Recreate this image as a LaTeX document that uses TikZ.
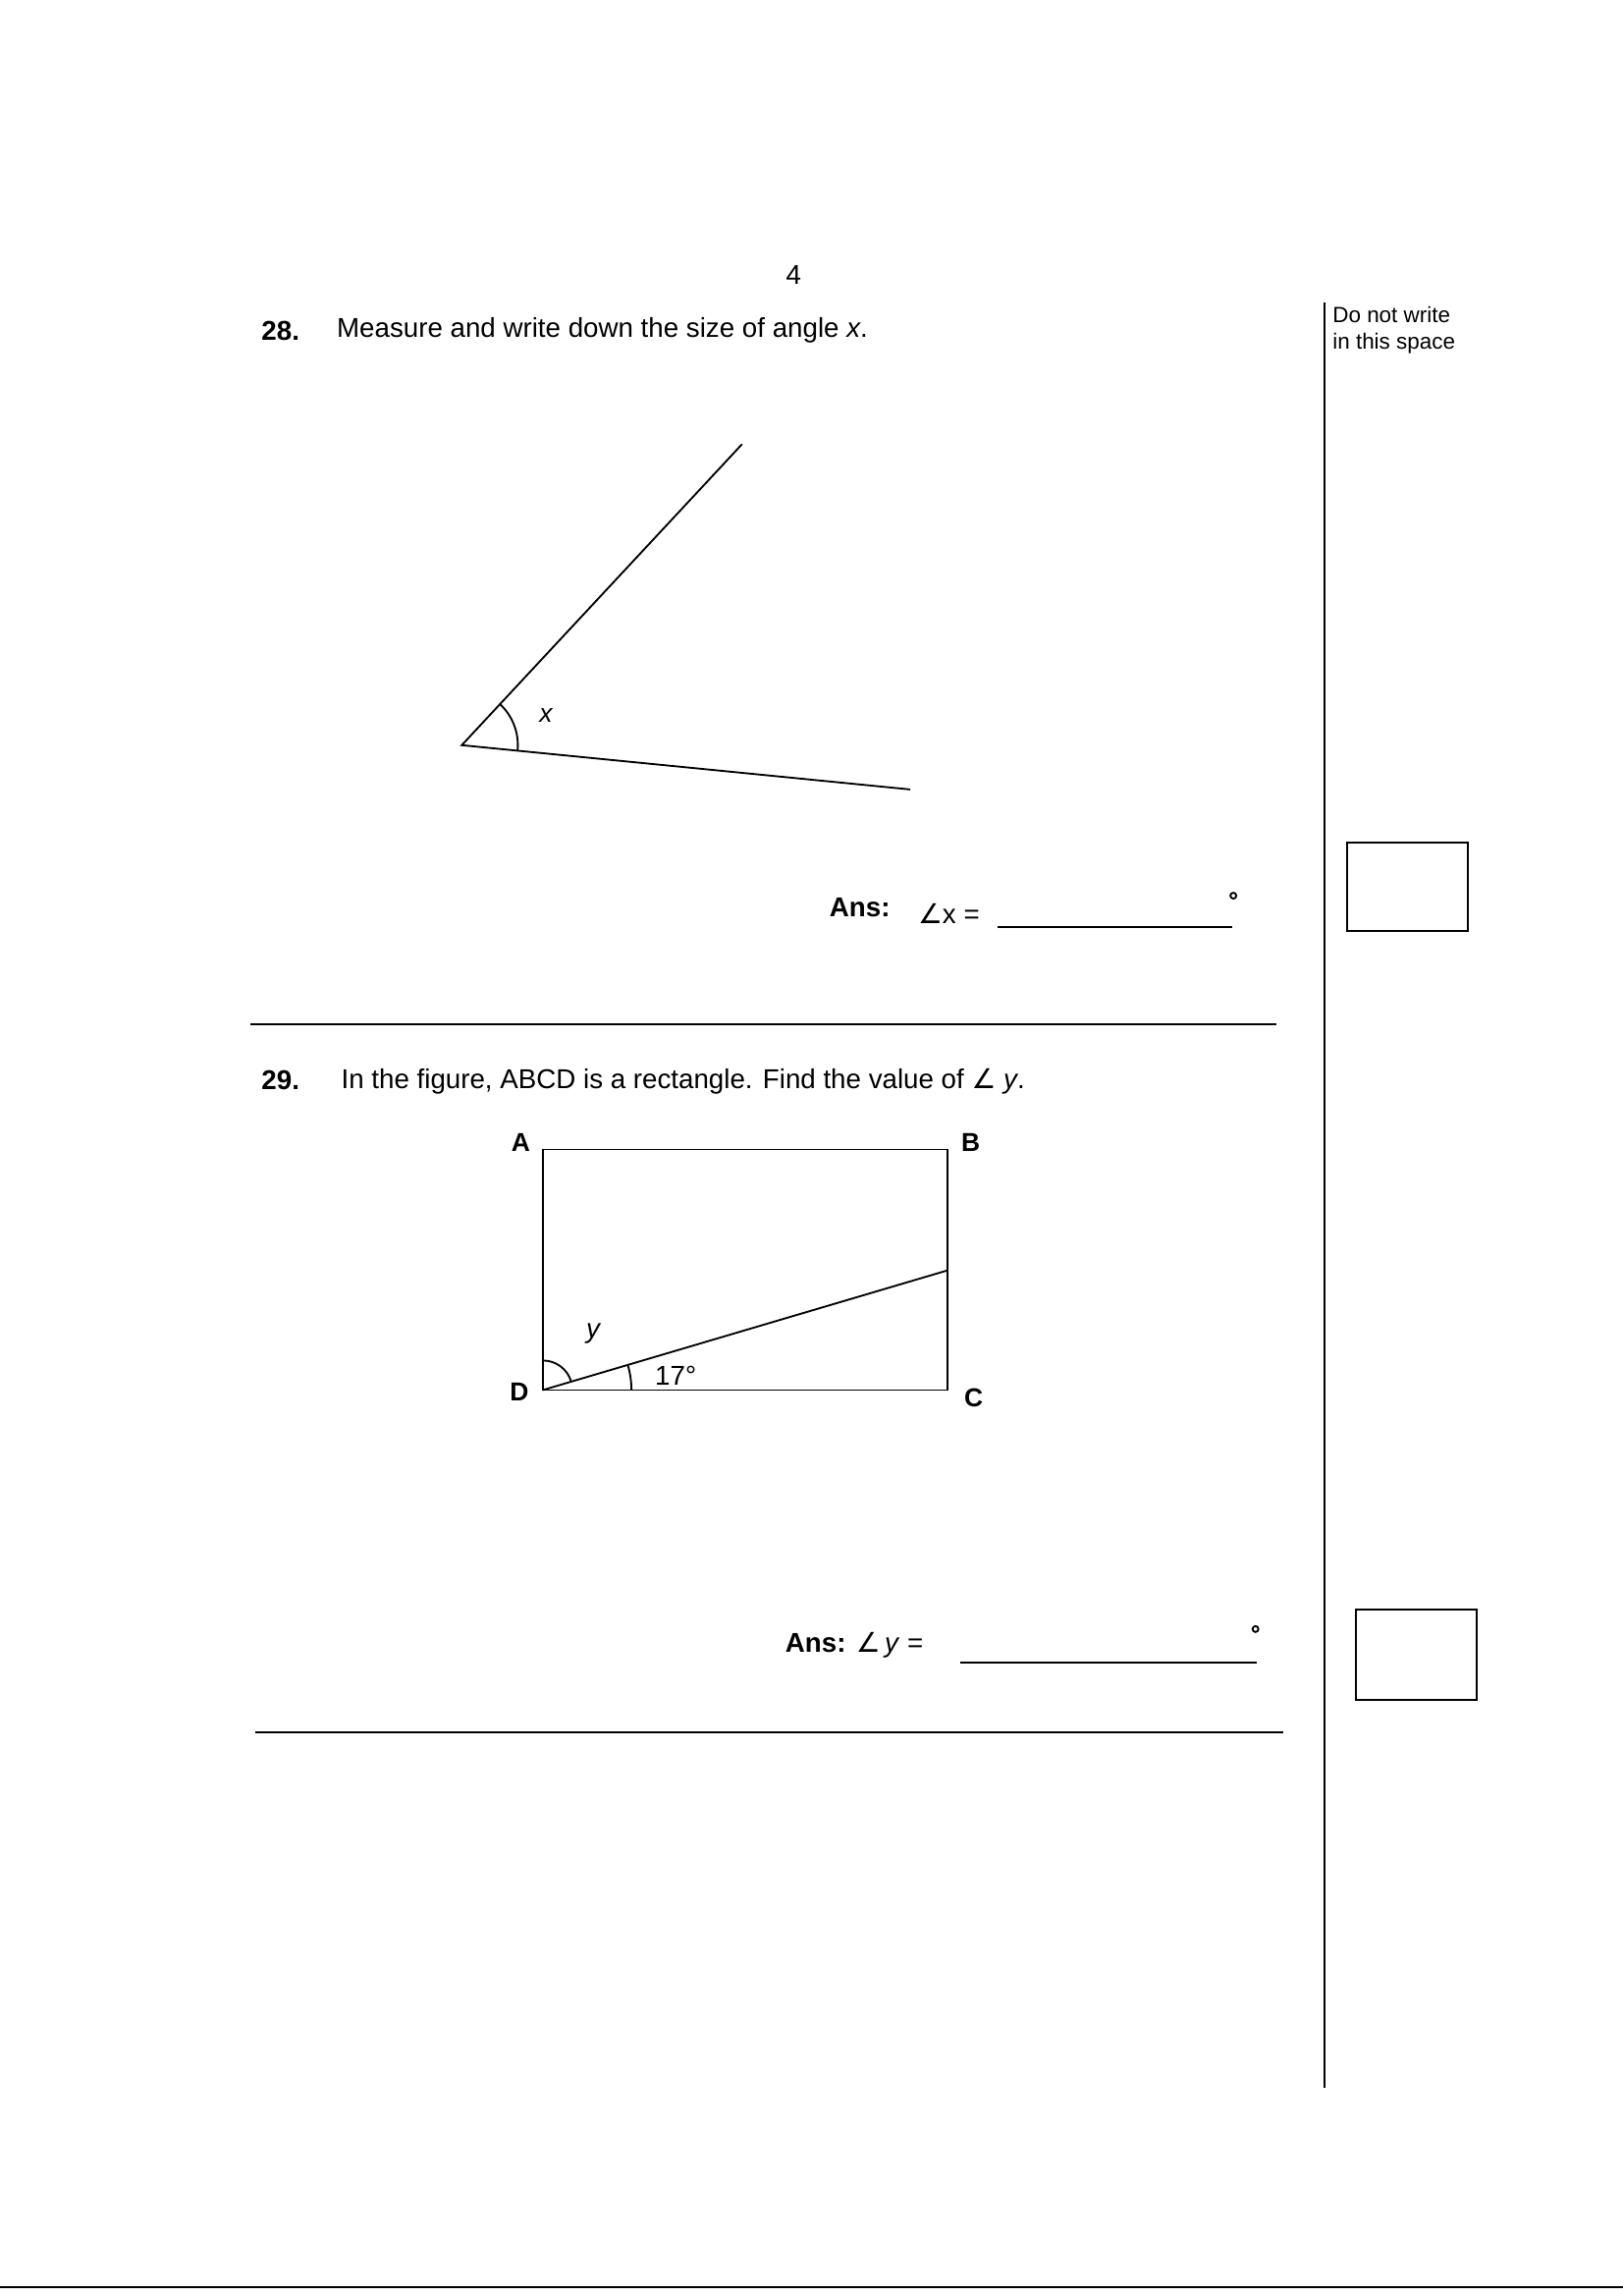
\documentclass[tikz,border=0pt]{standalone}
\usepackage{fontspec}
\usetikzlibrary{calc}
\setmainfont{Liberation Sans}
\newfontfamily\symfont{DejaVu Sans}
\newcommand{\angsym}{{\symfont ∠}}
\begin{document}
\begin{tikzpicture}[x=0.02cm,y=-0.02cm,
  txt/.style={inner sep=0pt,anchor=west,font=\fontsize{10.5}{12}\selectfont},
  lab/.style={inner sep=0pt,font=\fontsize{10}{12}\selectfont\bfseries},
  fig/.style={black,line width=0.7pt}]
\useasboundingbox (0,0) rectangle (1100,1556);

% page furniture
\node[txt,anchor=center] (pg) at (538,186) {4};
\draw[fig] (898,205) -- (898,1415);
\node[txt,font=\fontsize{8.5}{10}\selectfont] (dnw1) at (903,213) {Do not write};
\node[txt,font=\fontsize{8.5}{10}\selectfont] (dnw2) at (903,233) {in this space};
\draw[fig] (170,694) -- (865,694);
\draw[fig] (173,1174) -- (870,1174);
\draw[fig] (0,1550) -- (1100,1550);

% question 28
\node[txt,font=\fontsize{10.5}{12}\selectfont\bfseries] (q28) at (177,224) {28.};
\node[txt] (t28) at (228,224) {Measure and write down the size of angle \textit{x}.};
\coordinate (O) at (313,505);
\coordinate (P) at (503,301);
\coordinate (Q) at (617,535);
\draw[fig] (P) -- (O) -- (Q);
\draw[fig] ($(O)+(5.6:38)$) arc[start angle=5.6,end angle=-47,radius=38];
\node[txt,anchor=center,font=\fontsize{10}{12}\selectfont\itshape] (x) at (370,485) {x};
\node[txt,font=\fontsize{10.5}{12}\selectfont\bfseries] (ans28) at (562,615) {Ans:};
\node[txt] (ax) at (622,619) {\angsym{}x =};
\draw[fig] (676,628) -- (835,628);
\draw[fig] (836,607) circle (2);
\draw[fig] (913,571) rectangle (995,631);

% question 29
\node[txt,font=\fontsize{10.5}{12}\selectfont\bfseries] (q29) at (177,732) {29.};
\node[txt] (t29) at (231,733) {In the figure, ABCD is a rectangle. Find the value of \angsym{} \textit{y}.};
\coordinate (A) at (368,779);
\coordinate (B) at (642,779);
\coordinate (C) at (642,942);
\coordinate (D) at (368,942);
\coordinate (E) at (642,861);
\draw[fig] (A) -- (B) -- (C) -- (D) -- cycle;
\draw[fig] (D) -- (E);
\node[lab] (la) at (353,774) {A};
\node[lab] (lb) at (658,774) {B};
\node[lab] (lc) at (660,947) {C};
\node[lab] (ld) at (352,943) {D};
\draw[fig] ($(D)+(0,-20)$) arc[start angle=-90,end angle=-16.5,radius=20];
\draw[fig] ($(D)+(60,0)$) arc[start angle=0,end angle=-16.5,radius=60];
\node[txt,anchor=center,font=\fontsize{10.5}{12}\selectfont\itshape] (y) at (402,904) {y};
\node[txt,anchor=center] (a17) at (458,932) {17°};
\node[txt,font=\fontsize{10.5}{12}\selectfont\bfseries] (ans29) at (532,1115) {Ans: \normalfont\angsym{}\,\textit{y} =};
\draw[fig] (651,1127) -- (852,1127);
\draw[fig] (851,1104) circle (2);
\draw[fig] (919,1091) rectangle (1001,1152);

\end{tikzpicture}
\end{document}
